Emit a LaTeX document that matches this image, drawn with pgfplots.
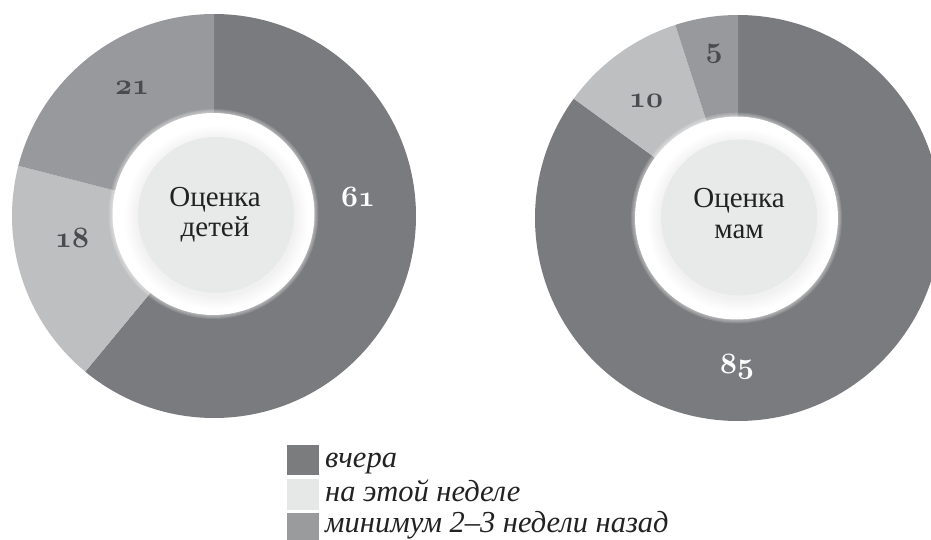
\RequirePackage{fix-cm}
\documentclass[border=0pt]{standalone}
\usepackage{fontspec}
\setmainfont{Liberation Serif}
\usepackage{pgfplots}
\usepackage{pgfplotstable}
\pgfplotsset{compat=1.18}

\definecolor{cdark}{HTML}{7A7B7E}
\definecolor{clight}{HTML}{BEBFC1}
\definecolor{cmed}{HTML}{98999C}
\definecolor{lgdark}{HTML}{7B7C7E}
\definecolor{lglight}{HTML}{E6E7E7}
\definecolor{lgmed}{HTML}{9A9B9D}
\definecolor{disk}{HTML}{E8E9E9}
\definecolor{lbl}{HTML}{4A4B4E}
\definecolor{txt}{HTML}{222222}

\pgfplotstableread{
value color
61 cdark
18 clight
21 cmed
}\kids
\pgfplotstableread{
value color
85 cdark
10 clight
5 cmed
}\moms

\newcommand\donut[4]{%
  \def\startang{90}%
  \pgfplotstablegetrowsof{#1}%
  \pgfmathtruncatemacro\nrows{\pgfplotsretval-1}%
  \pgfplotsforeachungrouped \i in {0,...,\nrows}{%
    \pgfplotstablegetelem{\i}{value}\of{#1}\let\v\pgfplotsretval
    \pgfplotstablegetelem{\i}{color}\of{#1}\let\c\pgfplotsretval
    \pgfmathsetmacro\endang{\startang-3.6*\v}%
    \edef\doslice{\noexpand\fill[\c] (axis cs:#2,#3) -- ++(\startang:#4pt) arc[start angle=\startang, end angle=\endang, radius=#4pt] -- cycle;}%
    \doslice
    \let\startang\endang
  }%
}
\newcommand\centre[5]{% white cx cy r, disk cx cy
  \pgfplotsforeachungrouped \k in {1,...,4}{%
    \pgfmathsetmacro\rr{#3+\k}%
    \edef\doglow{\noexpand\fill[white, opacity=0.12] (axis cs:#1,#2) circle[radius=\rr pt];}\doglow
  }%
  \fill[white] (axis cs:#1,#2) circle[radius=#3pt];
  \pgfplotsforeachungrouped \k in {1,...,14}{%
    \pgfmathsetmacro\rr{78+\k}%
    \edef\dosh{\noexpand\fill[black, opacity=0.0055] (axis cs:#4+0.5,#5-3) circle[radius=\rr pt];}\dosh
  }%
  \fill[disk] (axis cs:#4,#5) circle[radius=78pt];
}
\newcommand\num[1]{{\fontsize{29.5}{32}\usefont{OML}{cmm}{b}{it}#1}}

\begin{document}
\begin{tikzpicture}
\path[use as bounding box, fill=white] (0,0) rectangle (931pt,539pt);
\begin{axis}[x=1pt, y=1pt, xmin=0, xmax=931, ymin=0, ymax=539,
  hide axis, scale only axis, clip=false, at={(0,0)}, anchor=origin]
\donut{\kids}{214}{323}{202}
\donut{\moms}{738}{321}{203}
\centre{213.5}{325}{101}{216}{324}
\centre{736.5}{321}{101.5}{739}{321.5}

\node[anchor=base, inner sep=0pt, text=txt, font=\fontsize{29}{30}\selectfont] at (axis cs:215,332) {Оценка};
\node[anchor=base, inner sep=0pt, text=txt, font=\fontsize{29}{30}\selectfont] at (axis cs:215,302) {детей};
\node[anchor=base, inner sep=0pt, text=txt, font=\fontsize{29}{30}\selectfont] at (axis cs:739,331) {Оценка};
\node[anchor=base, inner sep=0pt, text=txt, font=\fontsize{29}{30}\selectfont] at (axis cs:739,301) {мам};

\node[anchor=base, inner sep=0pt, text=lbl] at (axis cs:132,444) {\num{21}};
\node[anchor=base, inner sep=0pt, text=white] at (axis cs:358,332) {\num{61}};
\node[anchor=base, inner sep=0pt, text=lbl] at (axis cs:72,292) {\num{18}};
\node[anchor=base, inner sep=0pt, text=lbl] at (axis cs:646,431) {\num{10}};
\node[anchor=base, inner sep=0pt, text=lbl] at (axis cs:714,481) {\num{5}};
\node[anchor=base, inner sep=0pt, text=white] at (axis cs:737,166) {\num{85}};

\fill[lgdark] (axis cs:287,64) rectangle (axis cs:319,94);
\fill[lglight] (axis cs:287,29) rectangle (axis cs:319,60);
\fill[lgmed] (axis cs:287,-5) rectangle (axis cs:319,26);
\node[anchor=base west, inner sep=0pt, text=txt, font=\fontsize{30.5}{32}\selectfont\itshape] at (axis cs:325,72) {вчера};
\node[anchor=base west, inner sep=0pt, text=txt, font=\fontsize{30.5}{32}\selectfont\itshape] at (axis cs:325,38) {на этой неделе};
\node[anchor=base west, inner sep=0pt, text=txt, font=\fontsize{30.5}{32}\selectfont\itshape] at (axis cs:325,7) {минимум 2–3 недели назад};
\end{axis}
\end{tikzpicture}
\end{document}
